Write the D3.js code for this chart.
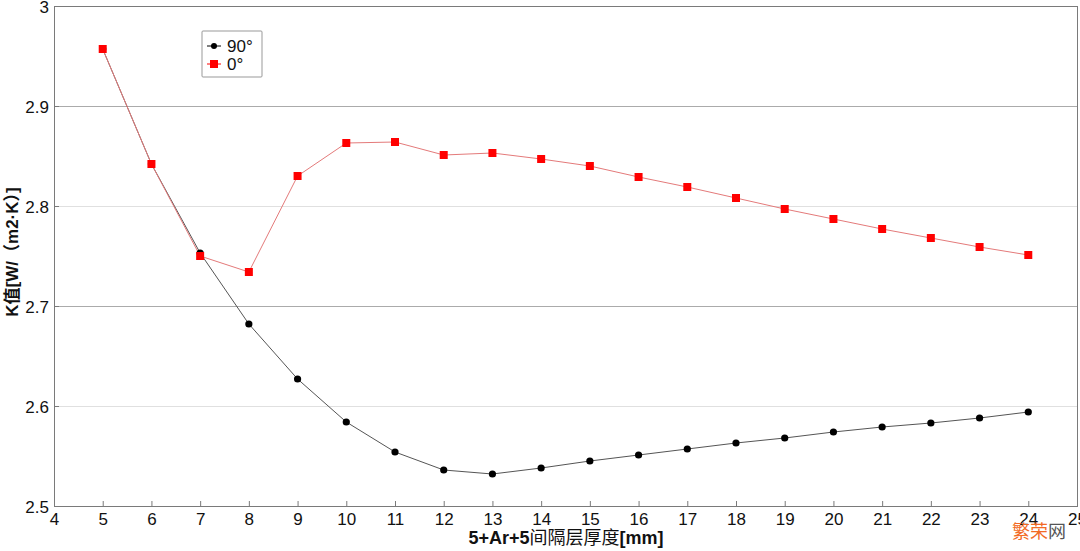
<!DOCTYPE html>
<html>
<head>
<meta charset="utf-8">
<script src="https://cdn.jsdelivr.net/npm/d3@7"></script>
<style>
body{margin:0;background:#fff;}
svg{display:block;font-family:"Liberation Sans",Arial,"Noto Sans CJK SC",sans-serif;}
</style>
</head>
<body>
<script>
// thickness values on the x axis
var thickness = [5,6,7,8,9,10,11,12,13,14,15,16,17,18,19,20,21,22,23,24];
// K values
var k90 = [2.957,2.842,2.753,2.682,2.627,2.584,2.554,2.536,2.532,2.538,2.545,2.551,2.557,2.563,2.568,2.574,2.579,2.583,2.588,2.594];
var k0 = [2.957,2.842,2.750,2.734,2.830,2.863,2.864,2.851,2.853,2.847,2.840,2.829,2.819,2.808,2.797,2.787,2.777,2.768,2.759,2.751];
var xTicks = [4,5,6,7,8,9,10,11,12,13,14,15,16,17,18,19,20,21,22,23,24,25];
var yTicks = [2.5,2.6,2.7,2.8,2.9,3];
var seriesNames = ["90°","0°"];

var W = 1080, H = 551;
var svg = d3.select("body").append("svg").attr("width",W).attr("height",H);

var x = d3.scaleLinear().domain([4,25]).range([54,1077]);
var y = d3.scaleLinear().domain([2.5,3]).range([506,6]);

// gridlines, alternating darker/lighter like the original
svg.selectAll(".grid").data(yTicks.filter(function(d){return d>2.5 && d<3;}))
  .enter().append("line")
  .attr("x1",x(4)).attr("x2",x(25))
  .attr("y1",function(d){return y(d);}).attr("y2",function(d){return y(d);})
  .attr("stroke",function(d){return Math.round(d*10)%2==1 ? "#ababab" : "#e0e0e0";})
  .attr("stroke-width",1).attr("shape-rendering","crispEdges");

// plot box
svg.append("rect").attr("x",x(4)).attr("y",y(3))
  .attr("width",x(25)-x(4)).attr("height",y(2.5)-y(3))
  .attr("fill","none").attr("stroke","#7a7a7a").attr("shape-rendering","crispEdges");

var xAxis = svg.append("g").attr("transform","translate(0,"+y(2.5)+")")
  .call(d3.axisBottom(x).tickValues(xTicks).tickFormat(d3.format("d")).tickSizeInner(-5).tickSizeOuter(0));
xAxis.select(".domain").remove();
xAxis.selectAll("line").attr("stroke","#7a7a7a");
xAxis.selectAll("text").attr("y",7).attr("font-size","17px").attr("fill","#111");

var yAxis = svg.append("g").attr("transform","translate("+x(4)+",0)")
  .call(d3.axisLeft(y).tickValues(yTicks).tickFormat(function(d){return d==3 ? "3" : d3.format(".1f")(d);}).tickSizeInner(-5).tickSizeOuter(0));
yAxis.select(".domain").remove();
yAxis.selectAll("line").attr("stroke","#7a7a7a");
yAxis.selectAll("text").attr("x",-5).attr("dy","0.38em").attr("font-size","17px").attr("fill","#111");

var line = d3.line().x(function(d){return x(d[0]);}).y(function(d){return y(d[1]);});

var d90 = thickness.map(function(t,i){return [t,k90[i]];});
var d0 = thickness.map(function(t,i){return [t,k0[i]];});

svg.append("path").datum(d90).attr("d",line).attr("fill","none").attr("stroke","#555").attr("stroke-width",1);
svg.append("path").datum(d0).attr("d",line).attr("fill","none").attr("stroke","#e47a7a").attr("stroke-width",1);

svg.selectAll(".dot").data(d90).enter().append("circle")
  .attr("cx",function(d){return x(d[0]);}).attr("cy",function(d){return y(d[1]);})
  .attr("r",3.6).attr("fill","#000");

svg.selectAll(".sq").data(d0).enter().append("rect")
  .attr("x",function(d){return x(d[0])-4;}).attr("y",function(d){return y(d[1])-4;})
  .attr("width",8).attr("height",8).attr("fill","#ff0000");

// legend
var lg = svg.append("g").attr("transform","translate(202,31)");
lg.append("rect").attr("width",60).attr("height",46).attr("fill","#fff").attr("stroke","#999").attr("rx",1);
seriesNames.forEach(function(n,i){
  var yy = 15 + i*18;
  lg.append("line").attr("x1",5).attr("x2",19).attr("y1",yy).attr("y2",yy)
    .attr("stroke", i==0 ? "#000" : "#ff0000");
  if(i==0) lg.append("circle").attr("cx",12).attr("cy",yy).attr("r",3).attr("fill","#000");
  else lg.append("rect").attr("x",8).attr("y",yy-4).attr("width",8).attr("height",8).attr("fill","#ff0000");
  lg.append("text").attr("x",25).attr("y",yy).attr("dy","0.35em").attr("font-size","17px").attr("fill","#111").text(n);
});

// axis titles
var xt = svg.append("text").attr("x",566).attr("y",544).attr("text-anchor","middle").attr("font-size","18px").attr("fill","#111");
xt.append("tspan").attr("font-weight","bold").text("5+Ar+5");
xt.append("tspan").text("间隔层厚度");
xt.append("tspan").attr("font-weight","bold").text("[mm]");

svg.append("text").attr("transform","translate(18,252) rotate(-90)").attr("text-anchor","middle")
  .attr("font-size","17px").attr("font-weight","bold").attr("fill","#111").text("K值[W/（m2·K）]");

// watermark
var wm = svg.append("text").attr("x",1012).attr("y",538).attr("font-size","18px").attr("font-family","'Noto Sans CJK SC',sans-serif");
wm.append("tspan").attr("fill","#f26a24").text("繁荣");
wm.append("tspan").attr("fill","#555").text("网");
</script>
</body>
</html>
